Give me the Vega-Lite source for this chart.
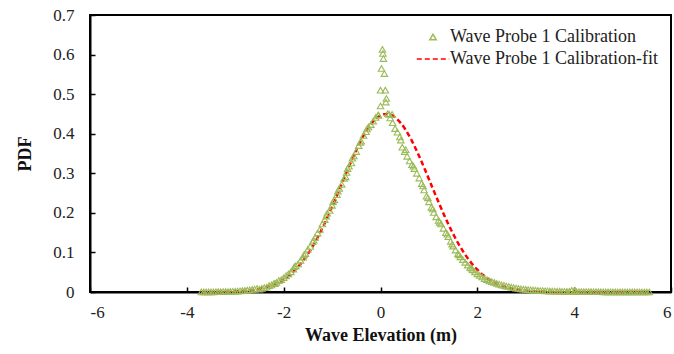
{
  "$schema": "https://vega.github.io/schema/vega-lite/v6.json",
  "width": 581,
  "height": 277,
  "autosize": "none",
  "padding": {"left": 90, "top": 15, "right": 3, "bottom": 62},
  "background": "white",
  "config": {
    "font": "Liberation Serif",
    "view": {"stroke": "#000000", "strokeWidth": 2},
    "axis": {
      "grid": false,
      "domainColor": "#000000",
      "domainWidth": 2,
      "tickColor": "#000000",
      "tickWidth": 1.5,
      "tickSize": -5,
      "labelFont": "Liberation Serif",
      "labelFontSize": 17,
      "labelColor": "#222222",
      "titleFont": "Liberation Serif",
      "titleFontSize": 18,
      "titleFontWeight": "bold",
      "titleColor": "#111111"
    },
    "legend": {
      "labelFont": "Liberation Serif",
      "labelFontSize": 18,
      "labelColor": "#222222",
      "labelLimit": 400,
      "padding": 0,
      "rowPadding": 4,
      "symbolStrokeWidth": 1.5
    }
  },
  "datasets": {
    "fit": [
      {"x": -3.7, "pdf": 0.0},
      {"x": -3.18, "pdf": 0.0007},
      {"x": -2.88, "pdf": 0.0023},
      {"x": -2.68, "pdf": 0.0045},
      {"x": -2.48, "pdf": 0.0084},
      {"x": -2.28, "pdf": 0.0152},
      {"x": -2.08, "pdf": 0.0261},
      {"x": -1.88, "pdf": 0.0428},
      {"x": -1.78, "pdf": 0.0538},
      {"x": -1.68, "pdf": 0.0669},
      {"x": -1.58, "pdf": 0.0822},
      {"x": -1.48, "pdf": 0.0998},
      {"x": -1.38, "pdf": 0.1198},
      {"x": -1.28, "pdf": 0.1421},
      {"x": -1.18, "pdf": 0.1665},
      {"x": -1.08, "pdf": 0.1929},
      {"x": -0.98, "pdf": 0.2209},
      {"x": -0.88, "pdf": 0.2499},
      {"x": -0.78, "pdf": 0.2794},
      {"x": -0.68, "pdf": 0.3088},
      {"x": -0.58, "pdf": 0.3373},
      {"x": -0.48, "pdf": 0.3641},
      {"x": -0.38, "pdf": 0.3885},
      {"x": -0.28, "pdf": 0.4096},
      {"x": -0.18, "pdf": 0.4268},
      {"x": -0.08, "pdf": 0.4395},
      {"x": 0.02, "pdf": 0.4474},
      {"x": 0.12, "pdf": 0.45},
      {"x": 0.22, "pdf": 0.4474},
      {"x": 0.32, "pdf": 0.4395},
      {"x": 0.42, "pdf": 0.4268},
      {"x": 0.52, "pdf": 0.4096},
      {"x": 0.62, "pdf": 0.3885},
      {"x": 0.72, "pdf": 0.3641},
      {"x": 0.82, "pdf": 0.3373},
      {"x": 0.92, "pdf": 0.3088},
      {"x": 1.02, "pdf": 0.2794},
      {"x": 1.12, "pdf": 0.2499},
      {"x": 1.22, "pdf": 0.2209},
      {"x": 1.32, "pdf": 0.1929},
      {"x": 1.42, "pdf": 0.1665},
      {"x": 1.52, "pdf": 0.1421},
      {"x": 1.62, "pdf": 0.1198},
      {"x": 1.72, "pdf": 0.0998},
      {"x": 1.82, "pdf": 0.0822},
      {"x": 1.92, "pdf": 0.0669},
      {"x": 2.02, "pdf": 0.0538},
      {"x": 2.12, "pdf": 0.0428},
      {"x": 2.32, "pdf": 0.0261},
      {"x": 2.52, "pdf": 0.0152},
      {"x": 2.72, "pdf": 0.0084},
      {"x": 2.92, "pdf": 0.0045},
      {"x": 3.12, "pdf": 0.0023},
      {"x": 3.42, "pdf": 0.0007},
      {"x": 3.82, "pdf": 0.0},
      {"x": 5.5, "pdf": 0.0}
    ],
    "probe": [
      {"x": -3.7, "pdf": 0.0003}, {"x": -3.65, "pdf": 0.0002}, {"x": -3.6, "pdf": 0.0004},
      {"x": -3.55, "pdf": 0.0003}, {"x": -3.5, "pdf": 0.0005}, {"x": -3.45, "pdf": 0.0004},
      {"x": -3.4, "pdf": 0.0006}, {"x": -3.35, "pdf": 0.0008}, {"x": -3.3, "pdf": 0.0007},
      {"x": -3.25, "pdf": 0.001}, {"x": -3.2, "pdf": 0.0012}, {"x": -3.15, "pdf": 0.0011},
      {"x": -3.1, "pdf": 0.0015}, {"x": -3.05, "pdf": 0.0018}, {"x": -3.0, "pdf": 0.002},
      {"x": -2.95, "pdf": 0.0024}, {"x": -2.9, "pdf": 0.0028}, {"x": -2.85, "pdf": 0.0033},
      {"x": -2.8, "pdf": 0.004}, {"x": -2.75, "pdf": 0.0046}, {"x": -2.7, "pdf": 0.0055},
      {"x": -2.65, "pdf": 0.0064}, {"x": -2.6, "pdf": 0.0075}, {"x": -2.55, "pdf": 0.0088},
      {"x": -2.5, "pdf": 0.007}, {"x": -2.45, "pdf": 0.009}, {"x": -2.4, "pdf": 0.011},
      {"x": -2.35, "pdf": 0.012}, {"x": -2.3, "pdf": 0.016}, {"x": -2.25, "pdf": 0.018},
      {"x": -2.2, "pdf": 0.022}, {"x": -2.18, "pdf": 0.021}, {"x": -2.15, "pdf": 0.024},
      {"x": -2.1, "pdf": 0.029}, {"x": -2.05, "pdf": 0.031}, {"x": -2.0, "pdf": 0.036},
      {"x": -1.95, "pdf": 0.041}, {"x": -1.9, "pdf": 0.046}, {"x": -1.85, "pdf": 0.051},
      {"x": -1.8, "pdf": 0.058}, {"x": -1.78, "pdf": 0.064}, {"x": -1.75, "pdf": 0.066},
      {"x": -1.7, "pdf": 0.071}, {"x": -1.65, "pdf": 0.08}, {"x": -1.6, "pdf": 0.088},
      {"x": -1.58, "pdf": 0.094}, {"x": -1.55, "pdf": 0.097}, {"x": -1.5, "pdf": 0.108},
      {"x": -1.45, "pdf": 0.115}, {"x": -1.4, "pdf": 0.127}, {"x": -1.38, "pdf": 0.131},
      {"x": -1.35, "pdf": 0.138}, {"x": -1.3, "pdf": 0.149}, {"x": -1.25, "pdf": 0.158},
      {"x": -1.2, "pdf": 0.172}, {"x": -1.15, "pdf": 0.183}, {"x": -1.12, "pdf": 0.192},
      {"x": -1.1, "pdf": 0.199}, {"x": -1.05, "pdf": 0.206}, {"x": -1.0, "pdf": 0.219},
      {"x": -0.98, "pdf": 0.228}, {"x": -0.95, "pdf": 0.233}, {"x": -0.9, "pdf": 0.246},
      {"x": -0.88, "pdf": 0.255}, {"x": -0.85, "pdf": 0.262}, {"x": -0.8, "pdf": 0.272},
      {"x": -0.75, "pdf": 0.287}, {"x": -0.72, "pdf": 0.291}, {"x": -0.7, "pdf": 0.302},
      {"x": -0.68, "pdf": 0.312}, {"x": -0.65, "pdf": 0.318}, {"x": -0.6, "pdf": 0.326},
      {"x": -0.58, "pdf": 0.338}, {"x": -0.55, "pdf": 0.344}, {"x": -0.5, "pdf": 0.355},
      {"x": -0.45, "pdf": 0.37}, {"x": -0.42, "pdf": 0.378}, {"x": -0.4, "pdf": 0.381},
      {"x": -0.35, "pdf": 0.396}, {"x": -0.3, "pdf": 0.405}, {"x": -0.28, "pdf": 0.412},
      {"x": -0.25, "pdf": 0.417}, {"x": -0.2, "pdf": 0.423}, {"x": -0.15, "pdf": 0.432},
      {"x": -0.1, "pdf": 0.441}, {"x": -0.05, "pdf": 0.447}, {"x": -0.04, "pdf": 0.447},
      {"x": 0.0, "pdf": 0.47}, {"x": 0.0, "pdf": 0.51}, {"x": 0.02, "pdf": 0.565},
      {"x": 0.04, "pdf": 0.613}, {"x": 0.05, "pdf": 0.603}, {"x": 0.06, "pdf": 0.59},
      {"x": 0.08, "pdf": 0.552}, {"x": 0.1, "pdf": 0.51}, {"x": 0.11, "pdf": 0.48},
      {"x": 0.12, "pdf": 0.489}, {"x": 0.15, "pdf": 0.451}, {"x": 0.18, "pdf": 0.449},
      {"x": 0.2, "pdf": 0.44}, {"x": 0.24, "pdf": 0.449}, {"x": 0.25, "pdf": 0.428},
      {"x": 0.3, "pdf": 0.413}, {"x": 0.35, "pdf": 0.404}, {"x": 0.4, "pdf": 0.392},
      {"x": 0.42, "pdf": 0.384}, {"x": 0.45, "pdf": 0.366}, {"x": 0.5, "pdf": 0.355},
      {"x": 0.52, "pdf": 0.36}, {"x": 0.55, "pdf": 0.343}, {"x": 0.6, "pdf": 0.331},
      {"x": 0.65, "pdf": 0.322}, {"x": 0.68, "pdf": 0.318}, {"x": 0.7, "pdf": 0.312},
      {"x": 0.75, "pdf": 0.3}, {"x": 0.8, "pdf": 0.288}, {"x": 0.85, "pdf": 0.274},
      {"x": 0.88, "pdf": 0.268}, {"x": 0.9, "pdf": 0.258}, {"x": 0.95, "pdf": 0.242},
      {"x": 0.98, "pdf": 0.238}, {"x": 1.0, "pdf": 0.228}, {"x": 1.05, "pdf": 0.214},
      {"x": 1.08, "pdf": 0.21}, {"x": 1.1, "pdf": 0.201}, {"x": 1.15, "pdf": 0.19},
      {"x": 1.2, "pdf": 0.181}, {"x": 1.22, "pdf": 0.176}, {"x": 1.25, "pdf": 0.172},
      {"x": 1.3, "pdf": 0.161}, {"x": 1.35, "pdf": 0.15}, {"x": 1.38, "pdf": 0.146},
      {"x": 1.4, "pdf": 0.14}, {"x": 1.45, "pdf": 0.128}, {"x": 1.48, "pdf": 0.121},
      {"x": 1.5, "pdf": 0.116}, {"x": 1.55, "pdf": 0.106}, {"x": 1.6, "pdf": 0.097},
      {"x": 1.62, "pdf": 0.094}, {"x": 1.65, "pdf": 0.089}, {"x": 1.7, "pdf": 0.082},
      {"x": 1.75, "pdf": 0.075}, {"x": 1.8, "pdf": 0.068}, {"x": 1.85, "pdf": 0.062},
      {"x": 1.88, "pdf": 0.06}, {"x": 1.9, "pdf": 0.056}, {"x": 1.95, "pdf": 0.051},
      {"x": 2.0, "pdf": 0.046}, {"x": 2.05, "pdf": 0.042}, {"x": 2.1, "pdf": 0.038},
      {"x": 2.15, "pdf": 0.034}, {"x": 2.2, "pdf": 0.031}, {"x": 2.25, "pdf": 0.028},
      {"x": 2.3, "pdf": 0.026}, {"x": 2.35, "pdf": 0.024}, {"x": 2.4, "pdf": 0.022},
      {"x": 2.45, "pdf": 0.02}, {"x": 2.5, "pdf": 0.018}, {"x": 2.55, "pdf": 0.017},
      {"x": 2.6, "pdf": 0.015}, {"x": 2.65, "pdf": 0.014}, {"x": 2.7, "pdf": 0.012},
      {"x": 2.75, "pdf": 0.011}, {"x": 2.8, "pdf": 0.01}, {"x": 2.85, "pdf": 0.009},
      {"x": 2.9, "pdf": 0.008}, {"x": 2.95, "pdf": 0.007}, {"x": 3.0, "pdf": 0.0065},
      {"x": 3.05, "pdf": 0.006}, {"x": 3.1, "pdf": 0.0055}, {"x": 3.15, "pdf": 0.005},
      {"x": 3.2, "pdf": 0.0045}, {"x": 3.25, "pdf": 0.004}, {"x": 3.3, "pdf": 0.0037},
      {"x": 3.35, "pdf": 0.0034}, {"x": 3.4, "pdf": 0.003}, {"x": 3.45, "pdf": 0.0028},
      {"x": 3.5, "pdf": 0.0026}, {"x": 3.55, "pdf": 0.0024}, {"x": 3.6, "pdf": 0.0022},
      {"x": 3.65, "pdf": 0.002}, {"x": 3.7, "pdf": 0.0019}, {"x": 3.75, "pdf": 0.0018},
      {"x": 3.8, "pdf": 0.0016}, {"x": 3.85, "pdf": 0.0015}, {"x": 3.9, "pdf": 0.0014},
      {"x": 3.95, "pdf": 0.004}, {"x": 4.0, "pdf": 0.0012}, {"x": 4.02, "pdf": 0.004},
      {"x": 4.05, "pdf": 0.0011}, {"x": 4.1, "pdf": 0.001}, {"x": 4.15, "pdf": 0.001},
      {"x": 4.2, "pdf": 0.0009}, {"x": 4.25, "pdf": 0.0009}, {"x": 4.3, "pdf": 0.0008},
      {"x": 4.35, "pdf": 0.0008}, {"x": 4.4, "pdf": 0.0007}, {"x": 4.45, "pdf": 0.0007},
      {"x": 4.5, "pdf": 0.0006}, {"x": 4.55, "pdf": 0.0006}, {"x": 4.6, "pdf": 0.0005},
      {"x": 4.65, "pdf": 0.0005}, {"x": 4.7, "pdf": 0.0005}, {"x": 4.75, "pdf": 0.0004},
      {"x": 4.8, "pdf": 0.0004}, {"x": 4.85, "pdf": 0.0004}, {"x": 4.9, "pdf": 0.0003},
      {"x": 4.95, "pdf": 0.0003}, {"x": 5.0, "pdf": 0.0003}, {"x": 5.05, "pdf": 0.0003},
      {"x": 5.1, "pdf": 0.0002}, {"x": 5.15, "pdf": 0.0002}, {"x": 5.2, "pdf": 0.0002},
      {"x": 5.25, "pdf": 0.0002}, {"x": 5.3, "pdf": 0.0002}, {"x": 5.35, "pdf": 0.0001},
      {"x": 5.4, "pdf": 0.0001}, {"x": 5.45, "pdf": 0.0001}, {"x": 5.5, "pdf": 0.0001},
      {"x": 5.55, "pdf": 0.0001}
    ]
  },
  "encoding": {
    "x": {
      "field": "x",
      "type": "quantitative",
      "scale": {"domain": [-6, 6], "nice": false, "zero": false},
      "axis": {
        "values": [-6, -4, -2, 0, 2, 4, 6],
        "labelExpr": "toString(datum.value)",
        "title": "Wave Elevation (m)",
        "labelPadding": 17,
        "titlePadding": 6
      }
    },
    "y": {
      "field": "pdf",
      "type": "quantitative",
      "scale": {"domain": [0, 0.7], "nice": false},
      "axis": {
        "values": [0, 0.1, 0.2, 0.3, 0.4, 0.5, 0.6, 0.7],
        "format": ".1~f",
        "title": "PDF",
        "labelPadding": 21,
        "titlePadding": 18
      }
    }
  },
  "layer": [
    {
      "description": "left and right edges of the plot frame",
      "data": {"values": [{"edge": -6}, {"edge": 6}]},
      "mark": {"type": "rule", "color": "#000000", "strokeWidth": 2},
      "encoding": {
        "x": {"field": "edge", "type": "quantitative"},
        "y": {"datum": 0, "type": "quantitative"},
        "y2": {"datum": 0.7}
      }
    },
    {
      "description": "bottom and top edges of the plot frame",
      "data": {"values": [{"edge": 0}, {"edge": 0.7}]},
      "mark": {"type": "rule", "color": "#000000", "strokeWidth": 2},
      "encoding": {
        "y": {"field": "edge", "type": "quantitative"},
        "x": {"datum": -6, "type": "quantitative"},
        "x2": {"datum": 6}
      }
    },
    {
      "data": {"name": "fit"},
      "mark": {"type": "line", "interpolate": "monotone", "strokeWidth": 2.5},
      "encoding": {
        "color": {
          "datum": "Wave Probe 1 Calibration-fit",
          "type": "nominal",
          "scale": {
            "domain": ["Wave Probe 1 Calibration", "Wave Probe 1 Calibration-fit"],
            "range": ["#9BBB59", "#FF0000"]
          },
          "legend": {
            "title": null,
            "orient": "none",
            "legendX": 334,
            "legendY": 13,
            "symbolSize": 42,
            "labelOffset": 8
          }
        },
        "strokeDash": {
          "datum": "Wave Probe 1 Calibration-fit",
          "type": "nominal",
          "scale": {
            "domain": ["Wave Probe 1 Calibration", "Wave Probe 1 Calibration-fit"],
            "range": [[1, 0], [5, 3]]
          },
          "legend": {"title": null}
        }
      }
    },
    {
      "data": {"name": "probe"},
      "mark": {"type": "point", "filled": false, "size": 42, "strokeWidth": 1.1, "opacity": 1},
      "encoding": {
        "color": {"datum": "Wave Probe 1 Calibration", "type": "nominal"},
        "shape": {
          "datum": "Wave Probe 1 Calibration",
          "type": "nominal",
          "scale": {
            "domain": ["Wave Probe 1 Calibration", "Wave Probe 1 Calibration-fit"],
            "range": ["triangle-up", "M-5,0H5"]
          },
          "legend": {"title": null}
        }
      }
    }
  ]
}
